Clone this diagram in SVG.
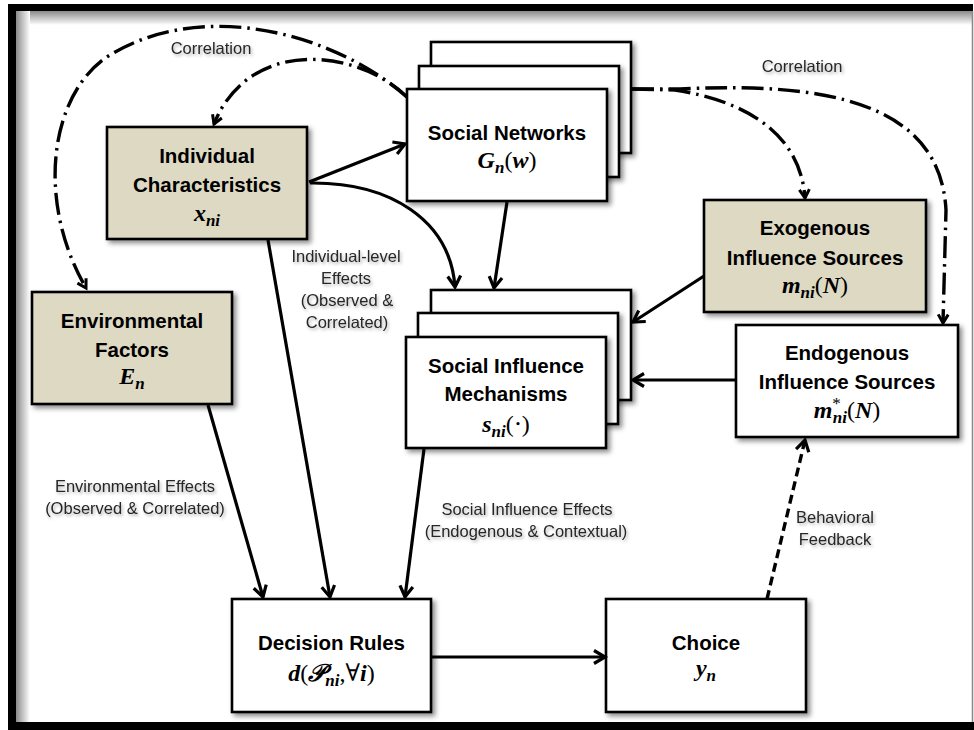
<svg xmlns="http://www.w3.org/2000/svg" width="974" height="730" viewBox="0 0 974 730">
<defs>
<style>
.box{stroke:#000;stroke-width:2.6}
.tan{fill:#ddd9c3}
.wht{fill:#fff}
.t{font-family:"Liberation Sans",Arial,sans-serif;font-weight:bold;font-size:20.5px;text-anchor:middle;fill:#000}
.m{font-family:"Liberation Serif","DejaVu Serif",serif;font-weight:bold;font-style:italic;font-size:24px;text-anchor:middle;fill:#000}
.sub{font-size:17px}
.up{font-style:normal;font-weight:normal}
.lbl{font-family:"Liberation Sans",Arial,sans-serif;font-size:16.5px;text-anchor:middle;fill:#262626}
.c{fill:none;stroke:#000;stroke-width:3.2}
.dd{stroke-dasharray:22 6 2.5 6;stroke-width:3.4}
.dash{stroke-dasharray:9 5;stroke-width:3.4}
</style>
<filter id="sh" x="-10%" y="-10%" width="130%" height="130%">
<feDropShadow dx="3" dy="3" stdDeviation="2.5" flood-color="#000" flood-opacity="0.45"/>
</filter>
<filter id="tsh" x="-5%" y="-20%" width="115%" height="160%">
<feDropShadow dx="1.5" dy="2" stdDeviation="1.5" flood-color="#000" flood-opacity="0.3"/>
</filter>
<linearGradient id="gTop" x1="0" y1="0" x2="0" y2="1">
<stop offset="0" stop-color="#8a8a8a"/><stop offset="1" stop-color="#fff"/>
</linearGradient>
<linearGradient id="gLeft" x1="0" y1="0" x2="1" y2="0">
<stop offset="0" stop-color="#8a8a8a"/><stop offset="1" stop-color="#fff"/>
</linearGradient>
<marker id="ah" markerUnits="userSpaceOnUse" markerWidth="18" markerHeight="18" refX="13" refY="8" orient="auto" viewBox="0 0 18 16">
<path d="M2,1.5 L13,8 L2,14.5" fill="none" stroke="#000" stroke-width="3.2" stroke-linejoin="miter"/>
</marker>
<marker id="ahs" markerUnits="userSpaceOnUse" markerWidth="14" markerHeight="14" refX="10" refY="6" orient="auto" viewBox="0 0 14 12">
<path d="M1.5,1 L10,6 L1.5,11" fill="none" stroke="#000" stroke-width="3" stroke-linejoin="miter"/>
</marker>
</defs>

<g id="frame">
<rect x="0" y="0" width="974" height="730" fill="#fff"/>
<rect x="16" y="11" width="956" height="14" fill="url(#gTop)"/>
<rect x="16" y="11" width="14" height="711" fill="url(#gLeft)"/>
<path d="M8,4 H973 V11 H16 V722 H974 V730 H8 Z" fill="#000"/>
<line x1="972.5" y1="11" x2="972.5" y2="722" stroke="#888" stroke-width="1.5"/>
</g>

<g id="n-individual">
<rect class="box tan" x="107" y="127" width="200" height="112" filter="url(#sh)"/>
<text class="t" x="207" y="163">Individual</text>
<text class="t" x="207" y="192">Characteristics</text>
<text class="m" x="207" y="221">x<tspan class="sub" dy="5">ni</tspan></text>
</g>

<g id="n-environmental">
<rect class="box tan" x="32" y="292" width="200" height="112" filter="url(#sh)"/>
<text class="t" x="132" y="328">Environmental</text>
<text class="t" x="132" y="357">Factors</text>
<text class="m" x="132" y="384">E<tspan class="sub" dy="5">n</tspan></text>
</g>

<g id="n-social-networks">
<rect class="box wht" x="431" y="42" width="200" height="111" filter="url(#sh)"/>
<rect class="box wht" x="419" y="66" width="200" height="111" filter="url(#sh)"/>
<rect class="box wht" x="407" y="89" width="200" height="112" filter="url(#sh)"/>
<text class="t" x="507" y="140">Social Networks</text>
<text class="m" x="507" y="168">G<tspan class="sub" dy="5">n</tspan><tspan class="up" dy="-5">(</tspan>w<tspan class="up">)</tspan></text>
</g>

<g id="n-mechanisms">
<rect class="box wht" x="431" y="290" width="200" height="110" filter="url(#sh)"/>
<rect class="box wht" x="418" y="313" width="200" height="111" filter="url(#sh)"/>
<rect class="box wht" x="406" y="337" width="200" height="111" filter="url(#sh)"/>
<text class="t" x="506" y="373">Social Influence</text>
<text class="t" x="506" y="401">Mechanisms</text>
<text class="m" x="506" y="432">s<tspan class="sub" dy="5">ni</tspan><tspan class="up" dy="-5">(⋅)</tspan></text>
</g>

<g id="n-exogenous">
<rect class="box tan" x="704" y="200" width="222" height="112" filter="url(#sh)"/>
<text class="t" x="815" y="235">Exogenous</text>
<text class="t" x="815" y="265">Influence Sources</text>
<text class="m" x="815" y="293">m<tspan class="sub" dy="5">ni</tspan><tspan class="up" dy="-5">(</tspan>N<tspan class="up">)</tspan></text>
</g>

<g id="n-endogenous">
<rect class="box wht" x="736" y="325" width="222" height="112" filter="url(#sh)"/>
<text class="t" x="847" y="360">Endogenous</text>
<text class="t" x="847" y="389">Influence Sources</text>
<text class="m" x="847" y="418">m<tspan class="sub up" dy="-9">*</tspan><tspan class="sub" dx="-8" dy="14">ni</tspan><tspan class="up" dy="-5">(</tspan>N<tspan class="up">)</tspan></text>
</g>

<g id="n-decision">
<rect class="box wht" x="232" y="599" width="199" height="113" filter="url(#sh)"/>
<text class="t" x="331.5" y="650">Decision Rules</text>
<text class="m" x="331.5" y="681">d<tspan class="up">(</tspan>𝒫<tspan class="sub" dy="5">ni</tspan><tspan class="up" dy="-5">,∀</tspan>i<tspan class="up">)</tspan></text>
</g>

<g id="n-choice">
<rect class="box wht" x="606" y="599" width="200" height="113" filter="url(#sh)"/>
<text class="t" x="706" y="650">Choice</text>
<text class="m" x="706" y="676">y<tspan class="sub" dy="5">n</tspan></text>
</g>

<g id="connectors">
<path class="c" d="M309,182 L405,144" marker-end="url(#ah)"/>
<path class="c" d="M310,183 C390,182 450,220 455,287" marker-end="url(#ah)"/>
<path class="c" d="M507,202 L494,288" marker-end="url(#ah)"/>
<path class="c" d="M704,276 L633,322" marker-end="url(#ah)"/>
<path class="c" d="M736,380 L633,380" marker-end="url(#ah)"/>
<path class="c" d="M268,240 L330,597" marker-end="url(#ah)"/>
<path class="c" d="M208,405 L263,597" marker-end="url(#ah)"/>
<path class="c" d="M424,449 L405,597" marker-end="url(#ah)"/>
<path class="c" d="M431,657 L605,657" marker-end="url(#ah)"/>
<path class="c dash" d="M767,599 L805,440" marker-end="url(#ah)"/>
<path class="c dd" d="M407,97 C330,30 200,0 110,55 C50,92 35,200 86,288" marker-end="url(#ahs)"/>
<path class="c dd" d="M407,97 C360,50 250,35 214,124" marker-end="url(#ahs)"/>
<path class="c dd" d="M632,89 L675,90 C740,100 800,130 805,198" marker-end="url(#ahs)"/>
<path class="c dd" d="M632,89 L680,89 C820,82 940,100 946,210 L943,323" marker-end="url(#ahs)"/>
</g>

<g id="labels" filter="url(#tsh)">
<text class="lbl" x="211" y="54">Correlation</text>
<text class="lbl" x="802" y="72">Correlation</text>
<text class="lbl" x="346" y="262">Individual-level</text>
<text class="lbl" x="346" y="284">Effects</text>
<text class="lbl" x="347" y="306">(Observed &amp;</text>
<text class="lbl" x="347" y="328">Correlated)</text>
<text class="lbl" x="135" y="492">Environmental Effects</text>
<text class="lbl" x="135" y="514">(Observed &amp; Correlated)</text>
<text class="lbl" x="527" y="515">Social Influence Effects</text>
<text class="lbl" x="526" y="537">(Endogenous &amp; Contextual)</text>
<text class="lbl" x="835" y="523">Behavioral</text>
<text class="lbl" x="835" y="545">Feedback</text>
</g>
</svg>
